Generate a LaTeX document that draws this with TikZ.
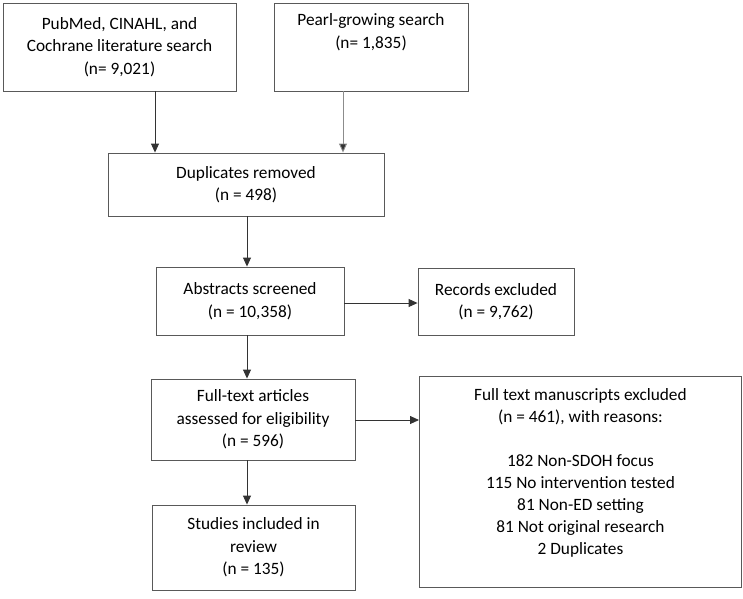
\documentclass[tikz,border=0pt]{standalone}
\usepackage{fontspec}
\setmainfont{Carlito}
\usetikzlibrary{arrows.meta}
\begin{document}
\begin{tikzpicture}[x=1pt,y=-1pt,
  box/.style={draw=black!65, line width=0.9pt, align=center, inner sep=0pt,
    font=\fontsize{17.3}{22.5}\selectfont},
  arr/.style={draw=black!80, line width=0.9pt, -{Triangle[length=9pt,width=8pt]}},
  arrl/.style={draw=black!45, line width=0.9pt, -{Triangle[length=9pt,width=8pt,fill=black!80]}}]
\useasboundingbox (0,0) rectangle (743,598);
\node[box, minimum width=233, minimum height=88] (src) at (119.5,47) {PubMed, CINAHL, and\\Cochrane literature search\\(n= 9,021)};
\node[box, minimum width=194, minimum height=88] (pearl) at (371,47) {Pearl-growing search\\(n= 1,835)\\[10pt]};
\node[box, minimum width=276, minimum height=63] (dup) at (246,184.5) {Duplicates removed\\(n = 498)};
\node[box, minimum width=188, minimum height=68] (abs) at (250,301) {Abstracts screened\\(n = 10,358)};
\node[box, minimum width=156, minimum height=67] (rec) at (496,301.5) {Records excluded\\(n = 9,762)};
\node[box, minimum width=204, minimum height=81] (full) at (253,419.5) {Full-text articles\\assessed for eligibility\\(n = 596)};
\node[box, minimum width=322, minimum height=211, anchor=north west] (ftex) at (419,376) {};
\node[align=center, inner sep=0pt, font=\fontsize{17.3}{22}\selectfont] (ftext) at ([yshift=9]ftex.center) {Full text manuscripts excluded\\(n = 461), with reasons:\\[22pt]182 Non-SDOH focus\\115 No intervention tested\\81 Non-ED setting\\81 Not original research\\2 Duplicates};
\node[box, minimum width=203, minimum height=85] (inc) at (253.5,547.5) {Studies included in\\review\\(n = 135)};
\draw[arr] (src.south -| 155,0) -- (dup.north -| 155,0);
\draw[arrl] (pearl.south -| 343,0) -- (dup.north -| 343,0);
\draw[arr] (dup.south -| 247,0) -- (abs.north -| 247,0);
\draw[arr] (abs.east |- 0,303) -- (rec.west |- 0,303);
\draw[arr] (abs.south -| 247,0) -- (full.north -| 247,0);
\draw[arr] (full.east |- 0,420) -- (ftex.west |- 0,420);
\draw[arr] (full.south -| 247,0) -- (inc.north -| 247,0);
\end{tikzpicture}
\end{document}
